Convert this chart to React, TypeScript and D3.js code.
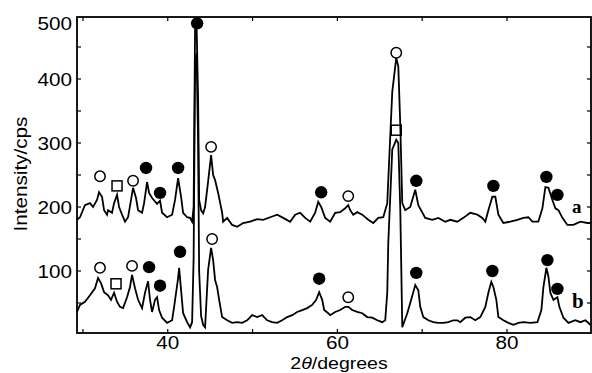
import React, { useEffect, useRef } from 'react';
import * as d3 from 'd3';

// trace a (upper pattern)
const angleA = [29.3, 29.65, 30.24, 30.83, 31.19, 31.66, 31.9, 32.25, 32.49, 32.84, 32.96, 33.43, 33.67, 34.02, 34.26, 34.61, 34.96, 35.32, 35.67, 35.91, 36.26, 36.5, 36.97, 37.21, 37.56, 37.8, 38.15, 38.74, 39.09, 39.33, 39.92, 40.51, 40.86, 41.22, 41.57, 41.81, 42.28, 42.63, 42.87, 43.05, 43.22, 43.4, 43.58, 43.7, 43.93, 44.17, 44.4, 44.76, 45.11, 45.35, 45.58, 45.94, 46.41, 46.53, 47.0, 47.59, 48.18, 48.89, 49.71, 50.54, 51.25, 52.07, 52.9, 53.61, 54.43, 55.02, 55.61, 56.2, 56.79, 57.38, 57.74, 58.09, 58.56, 59.15, 59.74, 60.33, 60.92, 61.28, 61.51, 61.87, 62.34, 62.93, 63.64, 64.23, 64.82, 65.41, 65.88, 66.0, 66.47, 66.94, 67.18, 67.41, 67.65, 68.0, 68.59, 69.18, 69.54, 70.36, 71.19, 71.9, 72.72, 73.31, 74.14, 74.85, 75.67, 76.5, 77.09, 77.44, 77.8, 78.27, 78.62, 78.98, 79.57, 80.39, 81.22, 81.93, 82.52, 82.99, 83.69, 84.17, 84.52, 84.88, 85.35, 85.7, 86.06, 86.53, 87.12, 87.83, 88.65, 89.48, 89.9];
const countsA = [180, 184, 203, 206, 200, 211, 223, 216, 195, 188, 195, 191, 206, 219, 200, 188, 177, 184, 211, 230, 214, 195, 191, 206, 239, 222, 214, 205, 210, 191, 184, 188, 211, 245, 216, 191, 184, 183, 177, 200, 480, 484, 367, 211, 195, 190, 200, 240, 281, 250, 242, 222, 191, 177, 183, 172, 169, 175, 177, 181, 180, 184, 188, 183, 177, 188, 191, 183, 177, 191, 208, 200, 183, 177, 191, 192, 198, 203, 195, 188, 192, 188, 180, 175, 183, 184, 206, 242, 380, 433, 420, 330, 206, 195, 200, 227, 203, 183, 180, 183, 177, 180, 177, 183, 191, 188, 183, 177, 195, 216, 216, 188, 175, 177, 180, 183, 184, 177, 177, 198, 231, 230, 211, 198, 195, 183, 172, 172, 177, 175, 175];

// trace b (lower pattern)
const angleB = [29.3, 29.65, 30.24, 30.83, 31.42, 31.78, 32.13, 32.49, 32.96, 33.31, 33.67, 34.02, 34.37, 34.73, 35.2, 35.55, 35.79, 36.14, 36.5, 36.97, 37.32, 37.68, 37.91, 38.15, 38.5, 38.74, 38.98, 39.33, 39.92, 40.51, 40.75, 41.22, 41.34, 41.57, 41.81, 42.28, 42.63, 42.87, 43.05, 43.22, 43.4, 43.58, 43.7, 43.93, 44.17, 44.4, 44.76, 45.11, 45.35, 45.58, 45.82, 46.06, 46.41, 47.0, 47.59, 48.18, 48.77, 49.36, 49.95, 50.54, 51.13, 51.72, 52.31, 52.9, 53.49, 54.08, 54.67, 55.26, 55.85, 56.44, 57.03, 57.5, 57.85, 58.21, 58.44, 58.92, 59.15, 59.74, 60.33, 60.92, 61.28, 61.75, 62.34, 62.93, 63.52, 64.11, 64.7, 65.29, 65.64, 65.88, 66.0, 66.47, 66.94, 67.18, 67.41, 67.65, 68.24, 68.59, 68.95, 69.18, 69.54, 69.77, 70.13, 70.72, 71.31, 71.9, 72.49, 73.08, 73.67, 74.14, 74.49, 75.08, 75.67, 76.26, 76.85, 77.44, 77.8, 78.15, 78.39, 78.74, 78.98, 79.57, 80.16, 80.75, 81.34, 81.93, 82.75, 83.58, 84.05, 84.29, 84.64, 84.88, 85.11, 85.47, 85.94, 86.17, 86.65, 87.24, 88.06, 88.65, 89.24, 89.83];
const countsB = [36, 47, 52, 62, 73, 89, 81, 67, 62, 55, 66, 52, 44, 42, 59, 75, 94, 73, 55, 42, 66, 84, 55, 36, 55, 59, 39, 27, 19, 23, 44, 89, 105, 70, 34, 20, 12, 20, 120, 420, 440, 300, 100, 30, 16, 12, 102, 136, 117, 86, 75, 55, 28, 23, 19, 20, 19, 23, 31, 28, 31, 23, 20, 19, 23, 28, 31, 36, 39, 42, 47, 55, 67, 55, 39, 34, 31, 36, 39, 44, 44, 39, 36, 34, 28, 27, 23, 20, 23, 66, 144, 290, 305, 300, 200, 12, 34, 50, 67, 78, 70, 44, 28, 23, 20, 19, 19, 20, 23, 23, 20, 27, 28, 23, 28, 44, 66, 83, 75, 55, 28, 23, 19, 16, 19, 20, 19, 20, 39, 75, 105, 91, 66, 55, 59, 44, 27, 19, 23, 20, 23, 16];

// phase markers [2theta, cps]
const filledA = [[37.44, 261], [39.09, 222], [41.22, 261], [43.46, 487], [58.09, 223], [69.3, 241], [78.39, 233], [84.64, 247], [85.94, 219]];
const openA = [[32.01, 248], [35.91, 241], [45.11, 294], [61.28, 217], [66.94, 441]];
const squareA = [[34.02, 233]];
const filledB = [[37.8, 106], [39.09, 77], [41.45, 130], [57.85, 88], [69.3, 97], [78.27, 100], [84.76, 117], [85.94, 72]];
const openB = [[32.01, 105], [35.79, 108], [45.23, 150], [61.28, 59]];
const squareB = [[33.9, 80], [66.94, 320]];

const xTickLabels = [40, 60, 80];
const yTickLabels = [100, 200, 300, 400, 500];

const App = () => {
  const svgRef = useRef<SVGSVGElement>(null);

  useEffect(() => {
    const W = 592;
    const H = 373;
    const margin = { top: 17, right: 1, bottom: 40, left: 77 };
    const svg = d3.select(svgRef.current);
    svg.selectAll('*').remove();

    const x = d3.scaleLinear().domain([29.3, 89.9]).range([margin.left, W - margin.right]);
    const y = d3.scaleLinear().domain([0, 500]).range([335, 15]);
    const bottom = H - margin.bottom;

    const font = '"Liberation Sans", Arial, sans-serif';
    const stretch = 'scale(1.15,1)';

    // traces
    const drawTrace = (angles: number[], counts: number[]) => {
      const pts = angles.map((a, i) => [x(a), y(counts[i])] as [number, number]);
      svg.append('path')
        .attr('d', d3.line()(pts))
        .attr('fill', 'none')
        .attr('stroke', '#000')
        .attr('stroke-width', 1.8)
        .attr('stroke-linejoin', 'miter');
    };
    drawTrace(angleA, countsA);
    drawTrace(angleB, countsB);

    // frame
    svg.append('rect')
      .attr('x', margin.left)
      .attr('y', margin.top)
      .attr('width', W - margin.right - margin.left)
      .attr('height', bottom - margin.top)
      .attr('fill', 'none')
      .attr('stroke', '#000')
      .attr('stroke-width', 1.8);

    // inward ticks
    const xt = d3.range(30, 90, 10);
    xt.forEach(t => {
      svg.append('line').attr('x1', x(t)).attr('x2', x(t)).attr('y1', bottom).attr('y2', bottom - 4).attr('stroke', '#000').attr('stroke-width', 1.2);
      svg.append('line').attr('x1', x(t)).attr('x2', x(t)).attr('y1', margin.top).attr('y2', margin.top + 4).attr('stroke', '#000').attr('stroke-width', 1.2);
    });
    const yt = d3.range(50, 500, 50);
    yt.forEach(t => {
      svg.append('line').attr('x1', margin.left).attr('x2', margin.left + 4).attr('y1', y(t)).attr('y2', y(t)).attr('stroke', '#000').attr('stroke-width', 1.2);
      svg.append('line').attr('x1', W - margin.right).attr('x2', W - margin.right - 4).attr('y1', y(t)).attr('y2', y(t)).attr('stroke', '#000').attr('stroke-width', 1.2);
    });

    // tick labels
    xTickLabels.forEach(t => {
      svg.append('text')
        .attr('transform', `translate(${x(t)},${bottom + 16}) ${stretch}`)
        .attr('text-anchor', 'middle')
        .style('font-family', font)
        .style('font-size', '18px')
        .text(t);
    });
    yTickLabels.forEach(t => {
      svg.append('text')
        .attr('transform', `translate(72,${Math.max(y(t), 23) + 6.5}) ${stretch}`)
        .attr('text-anchor', 'end')
        .style('font-family', font)
        .style('font-size', '18px')
        .text(t);
    });

    // axis titles
    const xTitle = svg.append('text')
      .attr('transform', `translate(339,369) ${stretch}`)
      .attr('text-anchor', 'middle')
      .style('font-family', font)
      .style('font-size', '17px');
    xTitle.append('tspan').text('2');
    xTitle.append('tspan').style('font-style', 'italic').text('θ');
    xTitle.append('tspan').text('/degrees');

    svg.append('text')
      .attr('transform', `translate(27,174) rotate(-90) ${stretch}`)
      .attr('text-anchor', 'middle')
      .style('font-family', font)
      .style('font-size', '18px')
      .text('Intensity/cps');

    // trace labels
    svg.append('text')
      .attr('x', 572).attr('y', 213)
      .style('font-family', '"Liberation Serif", serif')
      .style('font-weight', 'bold')
      .style('font-size', '19px')
      .text('a');
    svg.append('text')
      .attr('x', 572).attr('y', 308)
      .style('font-family', '"Liberation Serif", serif')
      .style('font-weight', 'bold')
      .style('font-size', '21px')
      .text('b');

    // markers
    const filled = filledA.concat(filledB);
    svg.selectAll('.filled')
      .data(filled)
      .enter()
      .append('circle')
      .attr('class', 'filled')
      .attr('cx', d => x(d[0]))
      .attr('cy', d => y(d[1]))
      .attr('r', 6.2)
      .attr('fill', '#000');

    const open = openA.concat(openB);
    svg.selectAll('.open')
      .data(open)
      .enter()
      .append('circle')
      .attr('class', 'open')
      .attr('cx', d => x(d[0]))
      .attr('cy', d => y(d[1]))
      .attr('r', 5.2)
      .attr('fill', '#fff')
      .attr('stroke', '#000')
      .attr('stroke-width', 1.5);

    const squares = squareA.concat(squareB);
    svg.selectAll('.square')
      .data(squares)
      .enter()
      .append('rect')
      .attr('class', 'square')
      .attr('x', d => x(d[0]) - 5)
      .attr('y', d => y(d[1]) - 5)
      .attr('width', 10)
      .attr('height', 10)
      .attr('fill', 'none')
      .attr('stroke', '#000')
      .attr('stroke-width', 1.5);
  }, []);

  return (
    <svg
      ref={svgRef}
      width={592}
      height={373}
      style={{ position: 'absolute', left: 0, top: 0, background: '#fff' }}
    />
  );
};

export default App;
